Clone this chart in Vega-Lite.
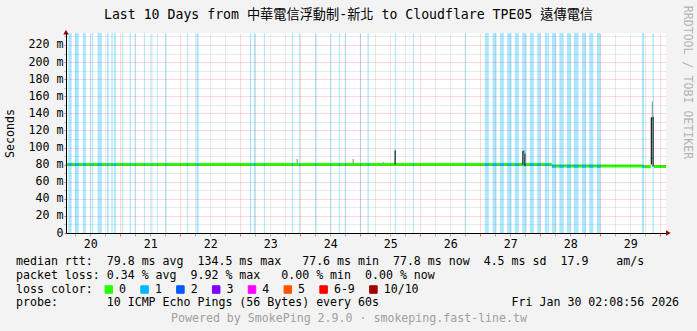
{
  "$schema": "https://vega.github.io/schema/vega-lite/v6.json",
  "width": 600,
  "height": 200,
  "autosize": {"type": "none"},
  "padding": {"left": 66, "top": 33, "right": 31, "bottom": 98},
  "background": "#f3f3f3",
  "config": {
    "view": {"stroke": null, "fill": "#ffffff"},
    "font": "DejaVu Sans Mono",
    "axis": {"labelFont": "DejaVu Sans Mono", "titleFont": "DejaVu Sans Mono", "labelFontSize": 11.6, "titleFontSize": 11.6, "labelColor": "#000000", "titleColor": "#000000", "titleFontWeight": "normal"}
  },
  "title": {
    "text": "Last 10 Days from 中華電信浮動制-新北 to Cloudflare TPE05 遠傳電信",
    "font": "DejaVu Sans Mono, Noto Sans CJK TC",
    "fontSize": 13.2,
    "fontWeight": "normal",
    "color": "#000000",
    "anchor": "middle",
    "frame": "group",
    "orient": "top",
    "offset": 0,
    "baseline": "bottom",
    "dx": -17.5,
    "dy": 30
  },
  "datasets": {
    "steps": [
      {"start": 20.097, "end": 28.195, "rtt": 80.2, "loss": "0"},
      {"start": 28.195, "end": 29.712, "rtt": 78.4, "loss": "0"},
      {"start": 29.712, "end": 29.845, "rtt": 77.6, "loss": "0"},
      {"start": 29.845, "end": 29.873, "rtt": 88, "loss": "0"},
      {"start": 29.895, "end": 30.097, "rtt": 77.8, "loss": "0"},
      {"start": 20.133, "end": 20.192, "rtt": 80.2, "loss": "1"},
      {"start": 20.245, "end": 20.312, "rtt": 80.2, "loss": "1"},
      {"start": 20.378, "end": 20.428, "rtt": 80.2, "loss": "1"},
      {"start": 20.500, "end": 20.517, "rtt": 80.2, "loss": "1"},
      {"start": 20.533, "end": 20.550, "rtt": 80.2, "loss": "1"},
      {"start": 20.623, "end": 20.695, "rtt": 80.2, "loss": "1"},
      {"start": 20.778, "end": 20.807, "rtt": 80.2, "loss": "1"},
      {"start": 20.853, "end": 20.877, "rtt": 80.2, "loss": "1"},
      {"start": 20.898, "end": 20.928, "rtt": 80.2, "loss": "1"},
      {"start": 21.033, "end": 21.050, "rtt": 80.2, "loss": "1"},
      {"start": 21.157, "end": 21.178, "rtt": 80.2, "loss": "1"},
      {"start": 21.240, "end": 21.257, "rtt": 80.2, "loss": "1"},
      {"start": 21.395, "end": 21.412, "rtt": 80.2, "loss": "1"},
      {"start": 21.520, "end": 21.537, "rtt": 80.2, "loss": "1"},
      {"start": 21.617, "end": 21.628, "rtt": 80.2, "loss": "1"},
      {"start": 21.753, "end": 21.773, "rtt": 80.2, "loss": "1"},
      {"start": 22.112, "end": 22.128, "rtt": 80.2, "loss": "1"},
      {"start": 22.270, "end": 22.307, "rtt": 80.2, "loss": "1"},
      {"start": 23.162, "end": 23.183, "rtt": 80.2, "loss": "1"},
      {"start": 23.228, "end": 23.253, "rtt": 80.2, "loss": "1"},
      {"start": 23.395, "end": 23.412, "rtt": 80.2, "loss": "1"},
      {"start": 23.862, "end": 23.882, "rtt": 80.2, "loss": "1"},
      {"start": 23.978, "end": 23.995, "rtt": 80.2, "loss": "1"},
      {"start": 24.250, "end": 24.273, "rtt": 80.2, "loss": "1"},
      {"start": 24.503, "end": 24.520, "rtt": 80.2, "loss": "1"},
      {"start": 24.645, "end": 24.662, "rtt": 80.2, "loss": "1"},
      {"start": 24.745, "end": 24.762, "rtt": 80.2, "loss": "1"},
      {"start": 24.995, "end": 25.012, "rtt": 80.2, "loss": "1"},
      {"start": 25.123, "end": 25.145, "rtt": 80.2, "loss": "1"},
      {"start": 25.578, "end": 25.595, "rtt": 96, "loss": "1"},
      {"start": 25.878, "end": 25.895, "rtt": 80.2, "loss": "1"},
      {"start": 26.745, "end": 26.762, "rtt": 80.2, "loss": "1"},
      {"start": 27.078, "end": 27.145, "rtt": 80.2, "loss": "1"},
      {"start": 27.207, "end": 27.273, "rtt": 80.2, "loss": "1"},
      {"start": 27.328, "end": 27.395, "rtt": 80.2, "loss": "1"},
      {"start": 27.450, "end": 27.523, "rtt": 80.2, "loss": "1"},
      {"start": 27.578, "end": 27.645, "rtt": 80.2, "loss": "1"},
      {"start": 27.700, "end": 27.717, "rtt": 80.2, "loss": "1"},
      {"start": 27.717, "end": 27.742, "rtt": 95, "loss": "1"},
      {"start": 27.742, "end": 27.773, "rtt": 80.2, "loss": "1"},
      {"start": 27.828, "end": 27.895, "rtt": 80.2, "loss": "1"},
      {"start": 27.950, "end": 28.007, "rtt": 80.2, "loss": "1"},
      {"start": 28.078, "end": 28.117, "rtt": 80.2, "loss": "1"},
      {"start": 28.123, "end": 28.150, "rtt": 80.2, "loss": "1"},
      {"start": 28.195, "end": 28.267, "rtt": 78.2, "loss": "1"},
      {"start": 28.320, "end": 28.392, "rtt": 78.2, "loss": "1"},
      {"start": 28.445, "end": 28.512, "rtt": 78.2, "loss": "1"},
      {"start": 28.562, "end": 28.640, "rtt": 78.2, "loss": "1"},
      {"start": 28.695, "end": 28.762, "rtt": 78.2, "loss": "1"},
      {"start": 28.817, "end": 28.887, "rtt": 78.2, "loss": "1"},
      {"start": 28.945, "end": 29.007, "rtt": 78.2, "loss": "1"},
      {"start": 29.695, "end": 29.732, "rtt": 78.0, "loss": "1"},
      {"start": 29.873, "end": 29.895, "rtt": 134.5, "loss": "1"}
    ],
    "smoke": [
      {"time": 23.950, "lo": 81.5, "hi": 86.5, "kind": "light"},
      {"time": 24.883, "lo": 81.5, "hi": 86.5, "kind": "light"},
      {"time": 25.383, "lo": 80.5, "hi": 83, "kind": "light"},
      {"time": 25.583, "lo": 80.2, "hi": 96.3, "kind": "dark"},
      {"time": 27.712, "lo": 80.2, "hi": 96, "kind": "dark"},
      {"time": 27.745, "lo": 78, "hi": 93, "kind": "dark"},
      {"time": 29.870, "lo": 135.5, "hi": 154, "kind": "light"},
      {"time": 29.853, "lo": 80, "hi": 135.5, "kind": "dark"},
      {"time": 29.882, "lo": 77.8, "hi": 135.5, "kind": "dark"}
    ],
    "arrows": [
      {"time": 30.137, "v": 0, "dir": "x"},
      {"time": 20.097, "v": 235, "dir": "y"}
    ]
  },
  "layer": [
    {
      "data": {"name": "steps"},
      "transform": [{"filter": "datum.loss != '0'"}],
      "mark": {"type": "rect", "opacity": 0.33},
      "encoding": {
        "x": {
          "field": "start",
          "type": "quantitative",
          "scale": {"domain": [20.0972, 30.0972], "nice": false, "zero": false},
          "axis": {
            "orient": "bottom",
            "values": [20.25, 20.5, 20.75, 21, 21.25, 21.5, 21.75, 22, 22.25, 22.5, 22.75, 23, 23.25, 23.5, 23.75, 24, 24.25, 24.5, 24.75, 25, 25.25, 25.5, 25.75, 26, 26.25, 26.5, 26.75, 27, 27.25, 27.5, 27.75, 28, 28.25, 28.5, 28.75, 29, 29.25, 29.5, 29.75, 30],
            "labelExpr": "datum.value % 1 == 0.5 ? '' + floor(datum.value) : ''",
            "labelOverlap": false,
            "labelFlush": false,
            "labelPadding": 2,
            "grid": true,
            "gridColor": {"condition": {"test": "datum.value % 1 == 0", "value": "rgba(255,0,0,0.3)"}, "value": "rgba(128,128,128,0.35)"},
            "gridDash": [1, 1],
            "gridWidth": 1,
            "tickSize": 3,
            "tickColor": {"condition": {"test": "datum.value % 1 == 0", "value": "rgba(255,0,0,0.6)"}, "value": "rgba(128,128,128,0.6)"},
            "domainColor": "#000000",
            "domainWidth": 1,
            "title": [
              "median rtt:\u00a0\u00a079.8 ms avg\u00a0\u00a0134.5 ms max\u00a0\u00a0\u00a077.6 ms min\u00a0\u00a077.8 ms now\u00a0\u00a04.5 ms sd\u00a0\u00a017.9\u00a0\u00a0\u00a0\u00a0am/s",
              "packet loss:\u00a00.34 % avg\u00a0\u00a09.92 % max\u00a0\u00a0\u00a00.00 % min\u00a0\u00a00.00 % now",
              "loss color:",
              "probe:\u00a0\u00a0\u00a0\u00a0\u00a0\u00a0\u00a010 ICMP Echo Pings (56 Bytes) every 60s\u00a0\u00a0\u00a0\u00a0\u00a0\u00a0\u00a0\u00a0\u00a0\u00a0\u00a0\u00a0\u00a0\u00a0\u00a0\u00a0\u00a0\u00a0\u00a0Fri Jan 30 02:08:56 2026"
            ],
            "titleX": -50.5,
            "titleY": 28.5,
            "titleAlign": "left",
            "titleBaseline": "middle",
            "titleLineHeight": 13.8,
            "zindex": 1
          }
        },
        "x2": {"field": "end"},
        "color": {
          "field": "loss",
          "type": "nominal",
          "scale": {
            "domain": ["0", "1", "2", "3", "4", "5", "6-9", "10/10"],
            "range": ["#26ff00", "#00b8ff", "#0059ff", "#7e00ff", "#ff00ff", "#ff5500", "#ff0000", "#a10000"]
          },
          "legend": {
            "orient": "none",
            "legendX": 37,
            "legendY": 250.5,
            "direction": "horizontal",
            "title": null,
            "symbolType": "square",
            "symbolSize": 56,
            "symbolStrokeWidth": 1,
            "symbolStrokeColor": "#000000",
            "symbolOpacity": 1,
            "labelFont": "DejaVu Sans Mono",
            "labelFontSize": 11.6,
            "labelColor": "#000000",
            "labelOffset": 4.5,
            "columnPadding": 11.8,
            "padding": 0,
            "encode": {
              "symbols": {
                "update": {
                  "fill": {"scale": "color", "field": "value"},
                  "stroke": {"value": "#000000"},
                  "strokeWidth": {"value": 1},
                  "opacity": {"value": 1},
                  "fillOpacity": {"value": 1}
                }
              }
            }
          }
        }
      }
    },
    {
      "data": {"name": "steps"},
      "mark": {"type": "rule", "strokeWidth": 3},
      "encoding": {
        "x": {
          "field": "start",
          "type": "quantitative",
          "axis": {
            "orient": "top",
            "grid": false,
            "ticks": false,
            "labels": false,
            "domain": false,
            "title": "Powered by SmokePing 2.9.0 · smokeping.fast-line.tw",
            "titleX": 282.5,
            "titleY": 285.3,
            "titleAlign": "center",
            "titleBaseline": "middle",
            "titleColor": "#a0a0a0"
          }
        },
        "x2": {"field": "end"},
        "y": {
          "field": "rtt",
          "type": "quantitative",
          "scale": {"domain": [0, 234], "nice": false, "zero": true},
          "axis": {
            "orient": "left",
            "values": [0, 10, 20, 30, 40, 50, 60, 70, 80, 90, 100, 110, 120, 130, 140, 150, 160, 170, 180, 190, 200, 210, 220, 230],
            "labelExpr": "datum.value % 20 == 0 ? (datum.value == 0 ? '0' : datum.value + ' m') : ''",
            "labelOverlap": false,
            "labelFlush": false,
            "labelPadding": 1,
            "tickSize": 2,
            "tickColor": {"condition": {"test": "datum.value % 20 == 0", "value": "rgba(255,0,0,0.6)"}, "value": "rgba(128,128,128,0.6)"},
            "grid": true,
            "gridColor": {"condition": {"test": "datum.value % 20 == 0", "value": "rgba(255,0,0,0.3)"}, "value": "rgba(128,128,128,0.35)"},
            "gridDash": [1, 1],
            "domainColor": "#000000",
            "title": "Seconds",
            "titleX": -56,
            "titleY": 100,
            "titleAlign": "center",
            "titleBaseline": "middle",
            "zindex": 1
          }
        },
        "color": {"field": "loss", "type": "nominal"}
      }
    },
    {
      "data": {"name": "smoke"},
      "mark": {"type": "rule", "strokeWidth": 1.2},
      "encoding": {
        "x": {"field": "time", "type": "quantitative", "axis": null},
        "y": {
          "field": "lo",
          "type": "quantitative",
          "axis": {
            "orient": "right",
            "grid": false,
            "ticks": false,
            "labels": false,
            "domain": false,
            "title": "RRDTOOL / TOBI OETIKER",
            "titleX": 20,
            "titleY": 49,
            "titleAngle": 90,
            "titleAlign": "center",
            "titleBaseline": "middle",
            "titleColor": "#b4b4b4"
          }
        },
        "y2": {"field": "hi"},
        "stroke": {
          "field": "kind",
          "type": "nominal",
          "scale": {"domain": ["dark", "light"], "range": ["#1a1a1a", "#9a9a9a"]},
          "legend": null
        }
      }
    },
    {
      "data": {"name": "arrows"},
      "mark": {"type": "point", "filled": true, "size": 28, "opacity": 1, "color": "#990000"},
      "encoding": {
        "x": {"field": "time", "type": "quantitative", "axis": null},
        "y": {"field": "v", "type": "quantitative", "axis": null},
        "shape": {
          "field": "dir",
          "type": "nominal",
          "scale": {"domain": ["x", "y"], "range": ["triangle-right", "triangle-up"]},
          "legend": null
        }
      }
    }
  ],
  "resolve": {"axis": {"x": "independent", "y": "independent"}}
}
